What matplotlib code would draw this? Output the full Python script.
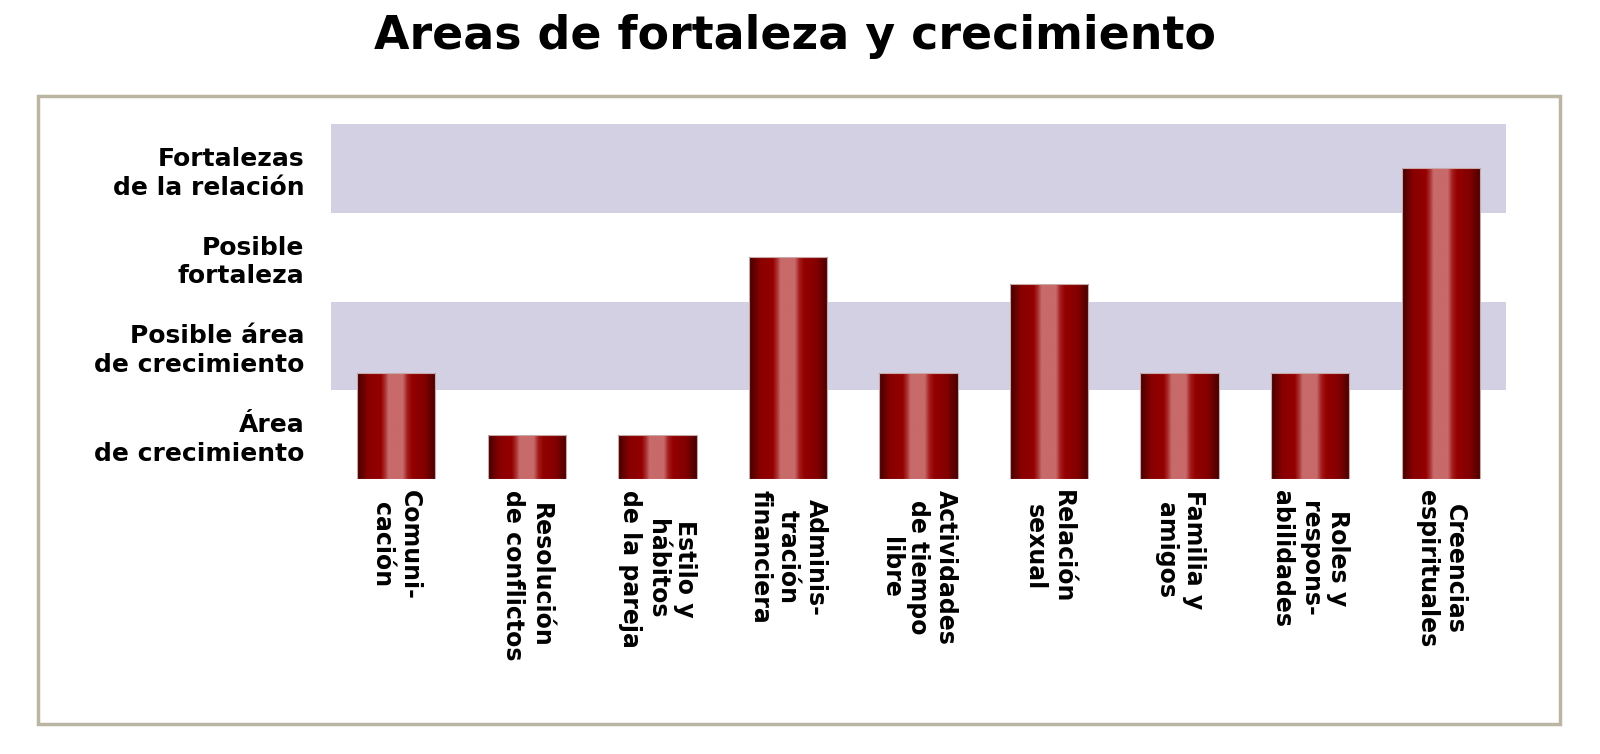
import numpy as np
import matplotlib
matplotlib.use("Agg")
from matplotlib import pyplot as plt
from matplotlib.colors import LinearSegmentedColormap
from matplotlib.patches import Rectangle

# data
categories = [
    "Comuni-\ncación",
    "Resolución\nde conflictos",
    "Estilo y\nhábitos\nde la pareja",
    "Adminis-\ntración\nfinanciera",
    "Actividades\nde tiempo\nlibre",
    "Relación\nsexual",
    "Familia y\namigos",
    "Roles y\nrespons-\nabilidades",
    "Creencias\nespirituales",
]
values = [1.2, 0.5, 0.5, 2.5, 1.2, 2.2, 1.2, 1.2, 3.5]

level_ticks = [0.5, 1.5, 2.5, 3.5]
level_labels = [
    "Área\nde crecimiento",
    "Posible área\nde crecimiento",
    "Posible\nfortaleza",
    "Fortalezas\nde la relación",
]
shaded_bands = [(1, 2), (3, 4)]

title = "Areas de fortaleza y crecimiento"

W, H = 1600, 754
fig = plt.figure(figsize=(W / 100, H / 100), dpi=100, facecolor="white")

# outer panel frame
fig.patches.append(Rectangle((38 / W, 1 - 724 / H), (1560 - 38) / W, (724 - 96) / H,
                             transform=fig.transFigure, facecolor="none",
                             edgecolor="#bab6a2", linewidth=2.5, zorder=5))

ax = fig.add_axes([331 / W, 1 - 479 / H, (1506 - 331) / W, (479 - 124) / H])
ax.set_facecolor("none")

for lo, hi in shaded_bands:
    ax.axhspan(lo, hi, color="#d3d0e3", lw=0, zorder=0)

# shiny red cylinder look
bar_cmap = LinearSegmentedColormap.from_list("shine", [
    (0.00, "#420000"),
    (0.14, "#880000"),
    (0.30, "#950000"),
    (0.35, "#a82a2a"),
    (0.40, "#c86a6a"),
    (0.58, "#c86a6a"),
    (0.64, "#a41c1c"),
    (0.70, "#940000"),
    (0.86, "#830000"),
    (1.00, "#480000"),
])
grad = np.linspace(0, 1, 256).reshape(1, -1)

x = np.arange(len(categories))
bars = ax.bar(x, values, width=0.6, facecolor="none", edgecolor="#c9a8a8",
              linewidth=0.8, zorder=3)
for b in bars:
    x0, y0 = b.get_x(), b.get_y()
    im = ax.imshow(grad, cmap=bar_cmap, aspect="auto", zorder=2,
                   interpolation="bilinear",
                   extent=(x0, x0 + b.get_width(), y0, y0 + b.get_height()))
    im.set_clip_path(b)

ax.set_xlim(-0.5, len(categories) - 0.5)
ax.set_ylim(0, 4)

ax.set_xticks(x, categories, rotation=-90, ha="center", va="top",
              multialignment="center", fontsize=17, fontweight="bold")
ax.set_yticks(level_ticks, level_labels, fontsize=18, fontweight="bold",
              linespacing=1.25)
ax.tick_params(axis="x", length=0, pad=8)
ax.tick_params(axis="y", length=0, pad=19)
for s in ax.spines.values():
    s.set_visible(False)

fig.text(0.497, 1 - 49 / H, title, ha="center", va="baseline",
         fontsize=33, fontweight="bold")

fig.savefig("out.png", dpi=100)
